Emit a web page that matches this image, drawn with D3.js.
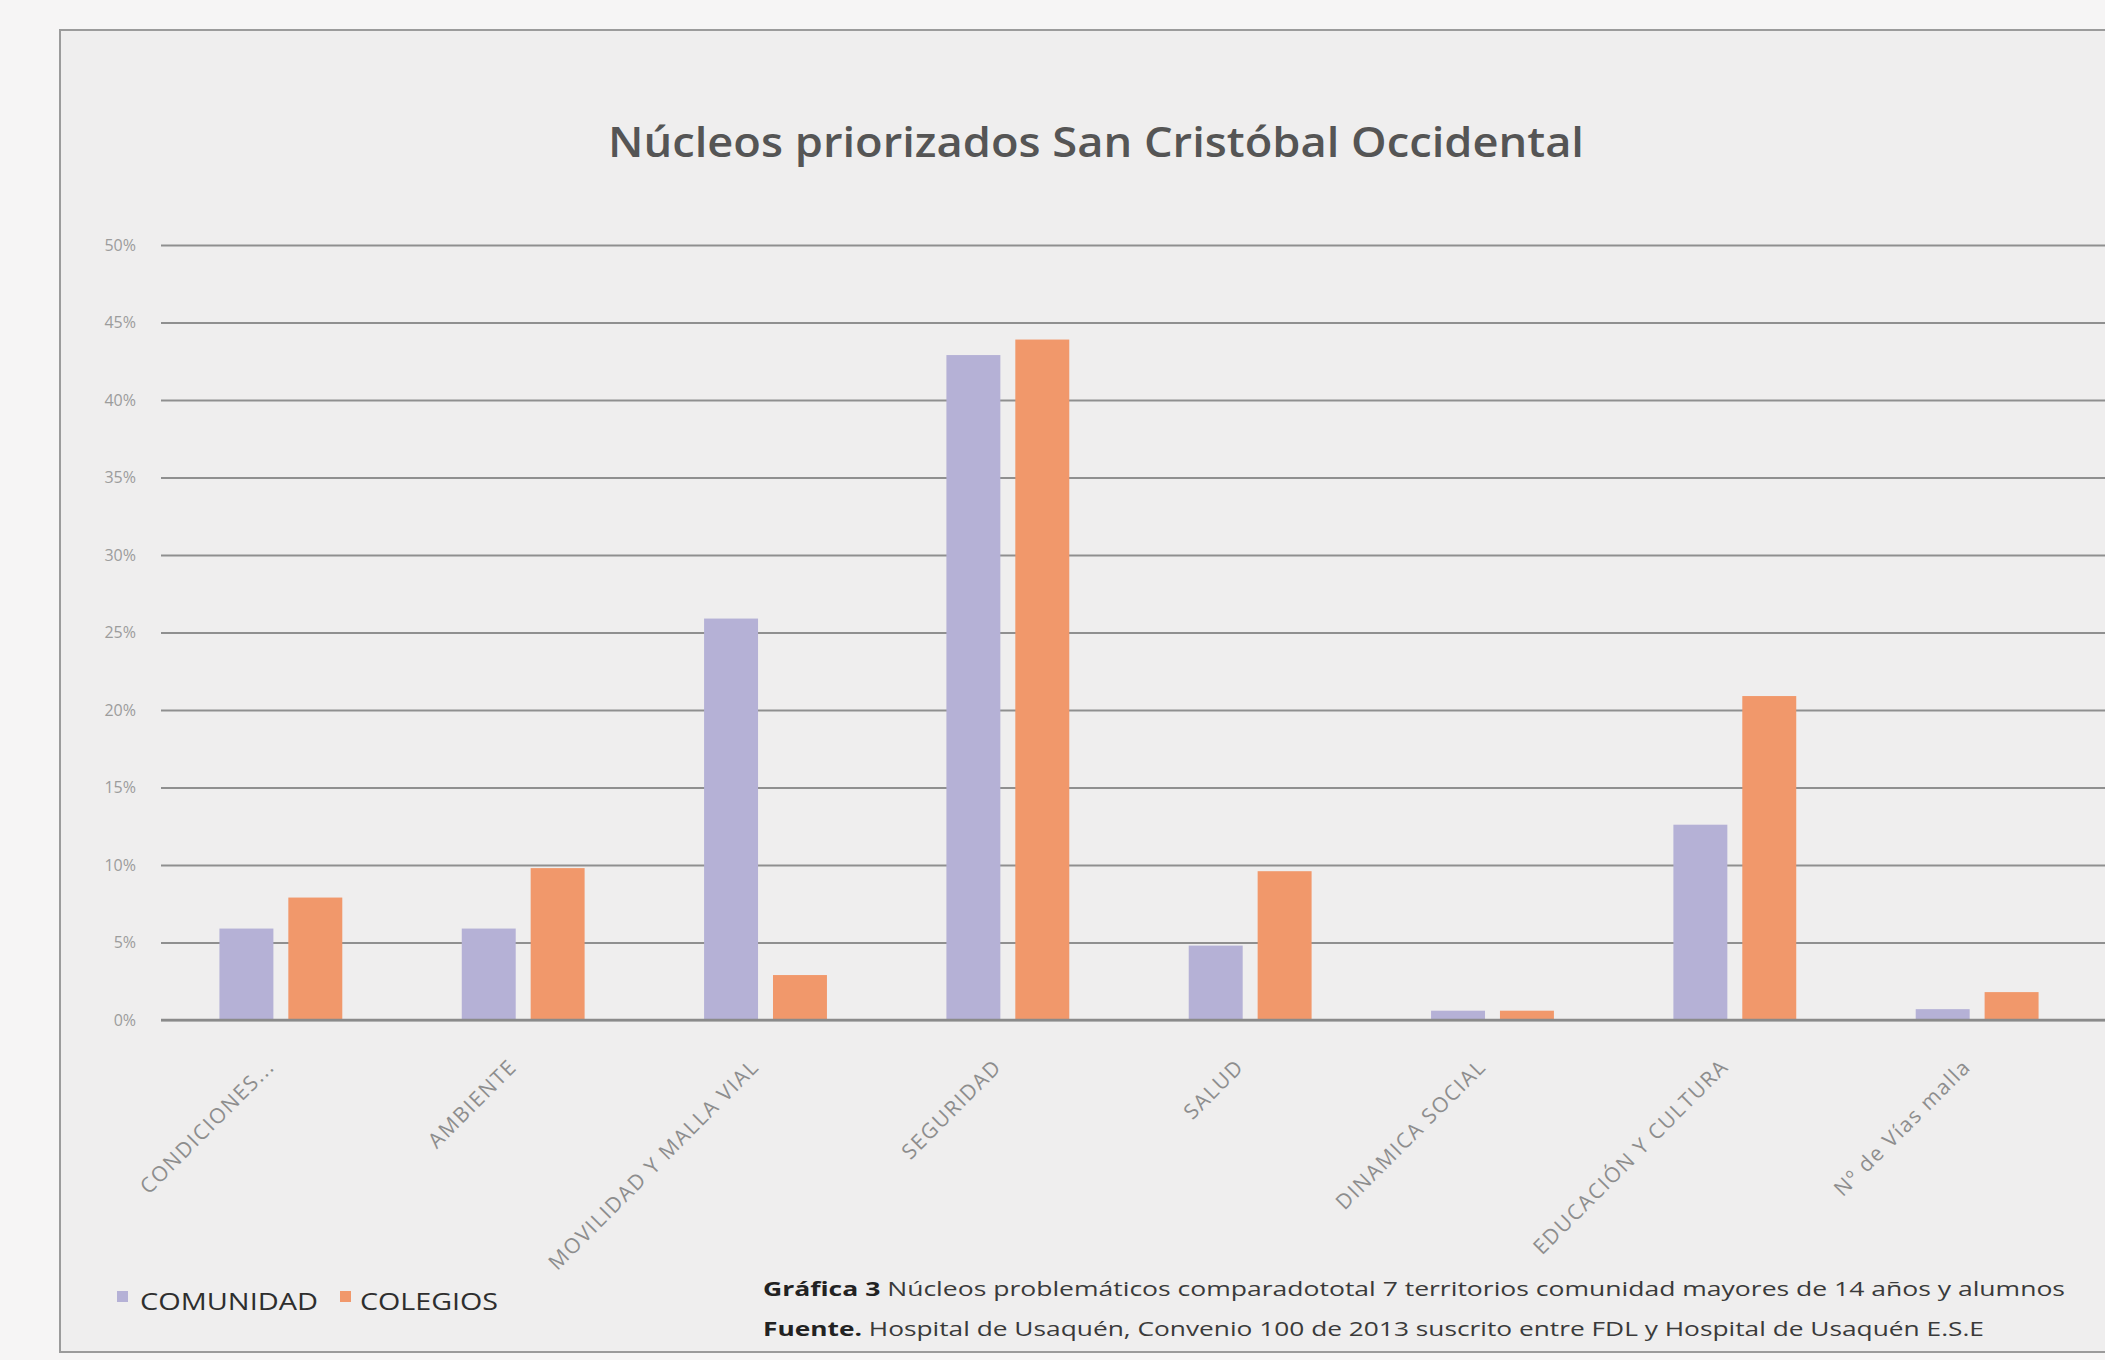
<!DOCTYPE html>
<html>
<head>
<meta charset="utf-8">
<script src="https://cdn.jsdelivr.net/npm/d3@7"></script>
<style>
  html, body { margin: 0; padding: 0; background: #f6f5f5; }
  svg { display: block; }
</style>
</head>
<body>
<svg id="chart" width="2105" height="1360"></svg>
<script>
const categories = ["CONDICIONES...", "AMBIENTE", "MOVILIDAD Y MALLA VIAL", "SEGURIDAD", "SALUD", "DINAMICA SOCIAL", "EDUCACIÓN Y CULTURA", "Nº de Vías malla"];
const seriesNames = ["COMUNIDAD", "COLEGIOS"];
const comunidad = [5.9, 5.9, 25.9, 42.9, 4.8, 0.6, 12.6, 0.7];
const colegios = [7.9, 9.8, 2.9, 43.9, 9.6, 0.6, 20.9, 1.8];
const yTicks = [0, 5, 10, 15, 20, 25, 30, 35, 40, 45, 50];
const titleText = "Núcleos priorizados San Cristóbal Occidental";
const captionBold1 = "Gráfica 3";
const captionText1 = " Núcleos problemáticos comparadototal 7 territorios comunidad mayores de 14 años y alumnos";
const captionBold2 = "Fuente.";
const captionText2 = " Hospital de Usaquén, Convenio 100 de 2013 suscrito entre FDL y Hospital de Usaquén E.S.E";

const colors = { COMUNIDAD: "#b5b1d6", COLEGIOS: "#f1986b" };

const svg = d3.select("#chart");
const W = 2105, H = 1360;

// paper background with chart frame
svg.append("rect").attr("x", 0).attr("y", 0).attr("width", W).attr("height", H).attr("fill", "#f6f5f5");
svg.append("rect").attr("x", 60).attr("y", 30).attr("width", W).attr("height", 1322)
  .attr("fill", "#efeeee").attr("stroke", "#9b9b9b").attr("stroke-width", 2);

const x0 = d3.scaleBand().domain(categories).range([158, 2100]).paddingInner(0.493).paddingOuter(0.2535);
const x1 = d3.scaleBand().domain(seriesNames).range([0, x0.bandwidth()]).paddingInner(0.217);
const y = d3.scaleLinear().domain([0, 50]).range([1020, 245]);

// gridlines
const grid = svg.append("g")
  .attr("transform", "translate(161,0)")
  .call(d3.axisLeft(y).tickValues(yTicks).tickSize(-(2105 - 161)).tickFormat(""));
grid.select(".domain").remove();
grid.selectAll("line").attr("stroke", "#8f8f8f").attr("stroke-width", 2);

// y labels
const yAxis = svg.append("g")
  .attr("transform", "translate(136,0)")
  .call(d3.axisLeft(y).tickValues(yTicks).tickSize(0).tickPadding(0).tickFormat(d => d + "%"));
yAxis.select(".domain").remove();
yAxis.selectAll("text").attr("fill", "#9c9c9c").attr("font-family", "Open Sans, sans-serif").attr("font-size", 16);

// bars
const data = categories.map((c, i) => ({ cat: c, values: [
  { key: "COMUNIDAD", v: comunidad[i] },
  { key: "COLEGIOS", v: colegios[i] }
]}));

const groups = svg.append("g").selectAll("g").data(data).join("g")
  .attr("transform", d => `translate(${x0(d.cat)},0)`);
groups.selectAll("rect").data(d => d.values).join("rect")
  .attr("x", d => x1(d.key))
  .attr("width", x1.bandwidth())
  .attr("y", d => y(d.v))
  .attr("height", d => y(0) - y(d.v))
  .attr("fill", d => colors[d.key]);

// baseline
svg.append("line").attr("x1", 161).attr("x2", 2105).attr("y1", y(0)).attr("y2", y(0))
  .attr("stroke", "#8a8a8a").attr("stroke-width", 2.5);

// x labels
const xAxis = svg.append("g")
  .attr("transform", `translate(0,${y(0)})`)
  .call(d3.axisBottom(x0).tickSize(0).tickPadding(0));
xAxis.select(".domain").remove();
xAxis.selectAll("text")
  .attr("font-family", "Open Sans, sans-serif")
  .attr("font-size", 21)
  .attr("letter-spacing", 1.6)
  .attr("fill", "#8d8d8d")
  .attr("text-anchor", "end")
  .attr("dy", 0)
  .attr("transform", "translate(-5,48) rotate(-45)");

// title
svg.append("text").attr("x", 1096).attr("y", 157)
  .attr("text-anchor", "middle")
  .attr("font-family", "Open Sans, sans-serif").attr("font-weight", 600)
  .attr("font-size", 42).attr("fill", "#555555")
  .attr("textLength", 976).attr("lengthAdjust", "spacingAndGlyphs")
  .text(titleText);

// legend
const legendItems = [
  { name: seriesNames[0], sx: 117, tx: 140, tw: 178 },
  { name: seriesNames[1], sx: 340, tx: 360, tw: 138 }
];
const lg = svg.append("g");
legendItems.forEach(it => {
  lg.append("rect").attr("x", it.sx).attr("y", 1291).attr("width", 11).attr("height", 11).attr("fill", colors[it.name]);
  lg.append("text").attr("x", it.tx).attr("y", 1310)
    .attr("font-family", "Open Sans, sans-serif").attr("font-size", 24).attr("fill", "#2e2e2e")
    .attr("textLength", it.tw).attr("lengthAdjust", "spacingAndGlyphs")
    .text(it.name);
});

// caption
const cap1 = svg.append("text").attr("x", 763).attr("y", 1296)
  .attr("font-family", "Open Sans, sans-serif").attr("font-size", 20).attr("fill", "#3a3a3a")
  .attr("textLength", 1302).attr("lengthAdjust", "spacingAndGlyphs");
cap1.append("tspan").attr("font-weight", 700).attr("fill", "#222").text(captionBold1);
cap1.append("tspan").text(captionText1);
const cap2 = svg.append("text").attr("x", 763).attr("y", 1336)
  .attr("font-family", "Open Sans, sans-serif").attr("font-size", 20).attr("fill", "#3a3a3a")
  .attr("textLength", 1221).attr("lengthAdjust", "spacingAndGlyphs");
cap2.append("tspan").attr("font-weight", 700).attr("fill", "#222").text(captionBold2);
cap2.append("tspan").text(captionText2);
</script>
</body>
</html>
